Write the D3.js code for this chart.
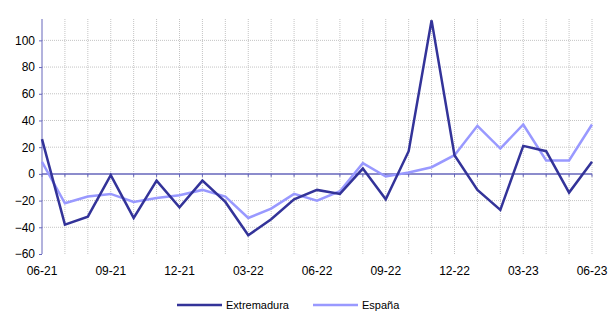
<!DOCTYPE html>
<html>
<head>
<meta charset="utf-8">
<script src="https://cdn.jsdelivr.net/npm/d3@7"></script>
<style>
  body { margin: 0; background: #fff; }
  svg text { font-family: "Liberation Sans", Arial, sans-serif; fill: #000; }
</style>
</head>
<body>
<svg id="chart" width="611" height="313"></svg>
<script>
// Meses (06-21 a 06-23)
const months = ["06-21","07-21","08-21","09-21","10-21","11-21","12-21","01-22","02-22","03-22","04-22","05-22",
  "06-22","07-22","08-22","09-22","10-22","11-22","12-22","01-23","02-23","03-23","04-23","05-23","06-23"];
const extremadura = [26,-38,-32,-1,-33,-5,-25,-5,-21,-46,-34,-19,-12,-15,4,-19,17,115,14,-12,-27,21,17,-14,9];
const espana = [9,-22,-17,-15,-21,-18,-16,-12,-17,-33,-26,-15,-20,-13,8,-2,1,5,14,36,19,37,10,10,37];
const yTicks = [-60,-40,-20,0,20,40,60,80,100];
const xTickLabels = ["06-21","09-21","12-21","03-22","06-22","09-22","12-22","03-23","06-23"];

const svg = d3.select("#chart");
const m = { left: 42, right: 592, top: 19, bottom: 254 };

const x = d3.scalePoint().domain(months).range([m.left, m.right]);
const y = d3.scaleLinear().domain([-60, 116]).range([m.bottom, m.top]);

const axisColor = "#6666bb";
const gridColor = "#c4c4c4";

// rejilla horizontal
svg.append("g").selectAll("line").data(yTicks.filter(d => d !== 0 && d !== -60)).join("line")
  .attr("x1", m.left).attr("x2", m.right)
  .attr("y1", d => y(d)).attr("y2", d => y(d))
  .attr("stroke", gridColor).attr("stroke-width", 1).attr("stroke-dasharray", "1,1");

// rejilla vertical
svg.append("g").selectAll("line").data(months.slice(1)).join("line")
  .attr("x1", d => x(d)).attr("x2", d => x(d))
  .attr("y1", m.top).attr("y2", m.bottom)
  .attr("stroke", gridColor).attr("stroke-width", 1).attr("stroke-dasharray", "1,1");

// eje Y
const yAxis = svg.append("g").attr("transform", `translate(${m.left},0)`)
  .call(d3.axisLeft(y).tickValues(yTicks).tickSize(3).tickPadding(4));
yAxis.select(".domain").attr("stroke", axisColor).attr("d", `M0,${m.top}V${m.bottom}`);
yAxis.selectAll(".tick line").attr("stroke", axisColor);
yAxis.selectAll("text").attr("font-size", 12);

// línea del cero con marcas
svg.append("line").attr("x1", m.left).attr("x2", m.right)
  .attr("y1", y(0)).attr("y2", y(0)).attr("stroke", axisColor).attr("stroke-width", 1.5);
svg.append("g").selectAll("line").data(months).join("line")
  .attr("x1", d => x(d)).attr("x2", d => x(d))
  .attr("y1", y(0)).attr("y2", y(0) + 3)
  .attr("stroke", axisColor);

// etiquetas eje X
svg.append("g").selectAll("text").data(xTickLabels).join("text")
  .attr("x", d => x(d)).attr("y", 275)
  .attr("text-anchor", "middle").attr("font-size", 12)
  .text(d => d);

const line = d3.line().x((d, i) => x(months[i])).y(d => y(d));

svg.append("path").datum(espana).attr("d", line)
  .attr("fill", "none").attr("stroke", "#9999ff").attr("stroke-width", 2.5);
svg.append("path").datum(extremadura).attr("d", line)
  .attr("fill", "none").attr("stroke", "#333399").attr("stroke-width", 2.5);

// leyenda
const legend = [
  { name: "Extremadura", color: "#333399", x: 177 },
  { name: "España", color: "#9999ff", x: 313 }
];
const lg = svg.append("g").selectAll("g").data(legend).join("g")
  .attr("transform", d => `translate(${d.x},305)`);
lg.append("line").attr("x1", 0).attr("x2", 45).attr("y1", 0).attr("y2", 0)
  .attr("stroke", d => d.color).attr("stroke-width", 2.5);
lg.append("text").attr("x", 49).attr("y", 4).attr("font-size", 11).text(d => d.name);
</script>
</body>
</html>
